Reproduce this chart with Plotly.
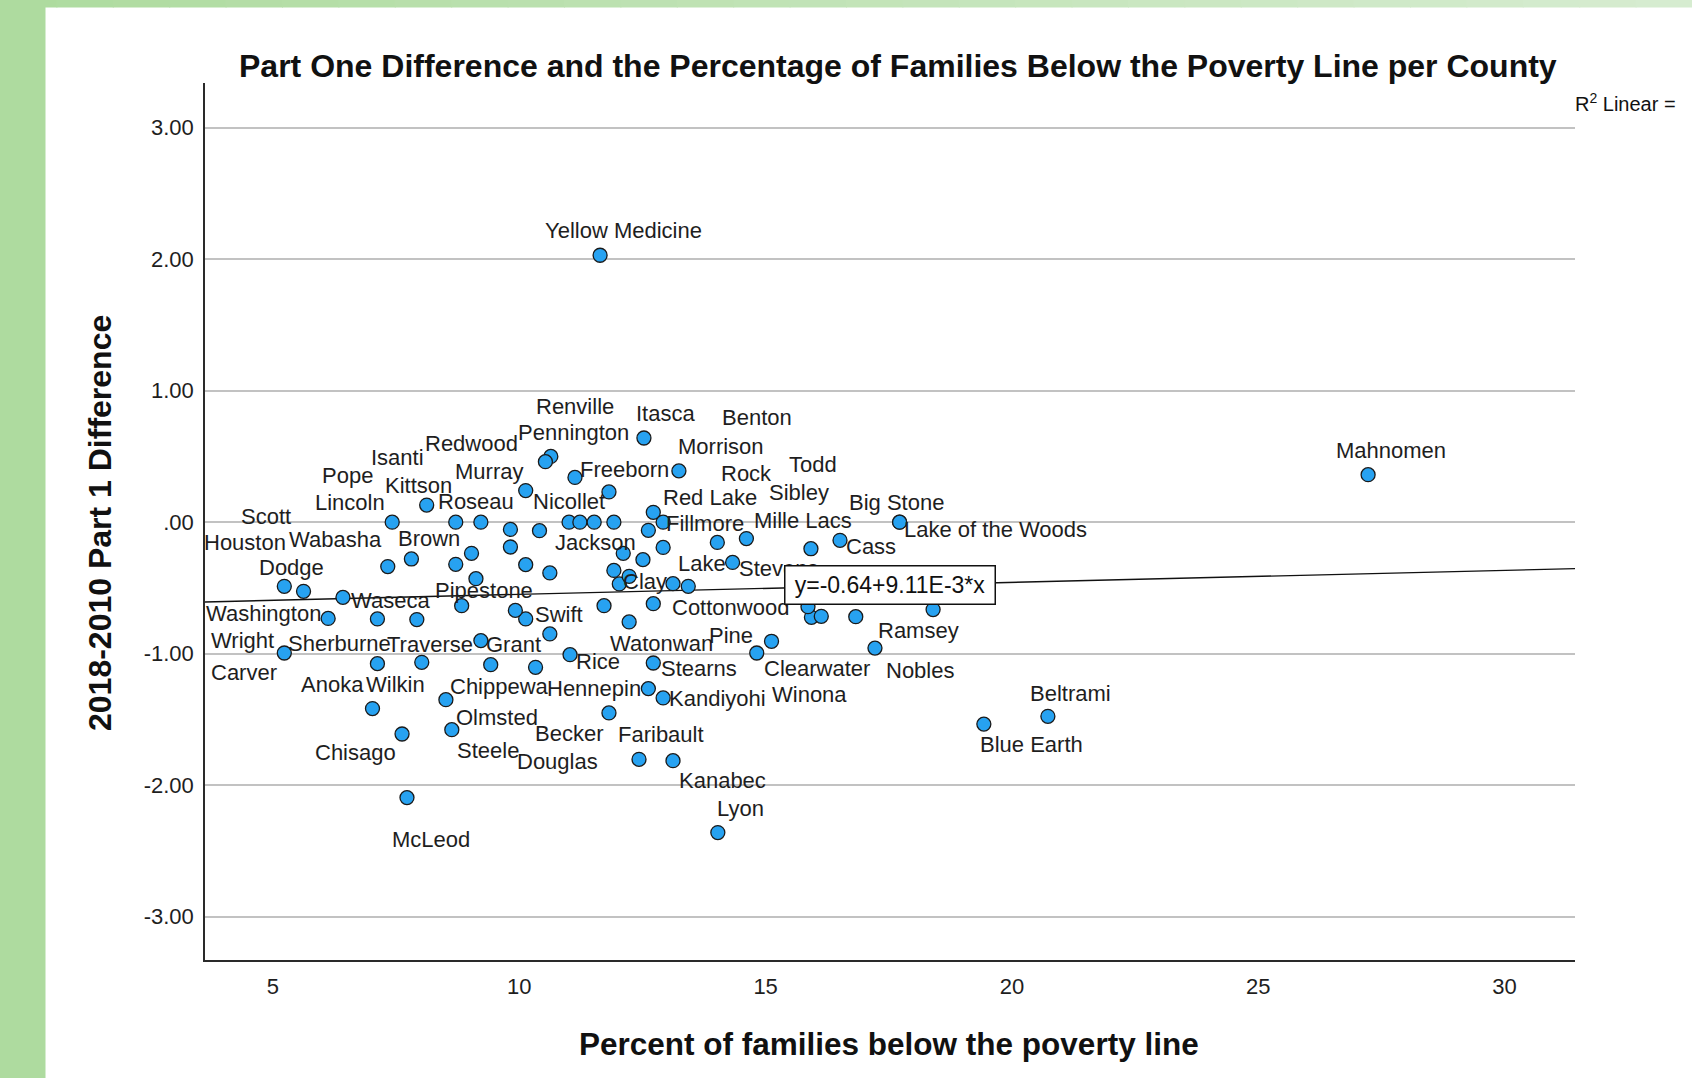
import plotly.graph_objects as go

# ---------------- data ----------------
county = [
    "Yellow Medicine", "Itasca", "Morrison", "Pennington", "Renville", "Freeborn",
    "Murray", "Benton", "Kittson", "Lincoln", "Isanti", "Roseau", "Redwood",
    "Nicollet", "Red Lake", "Fillmore", "Rock", "Pope", "Brown", "Wabasha",
    "Scott", "Jackson", "Clay", "Todd", "Dodge", "Houston", "Waseca",
    "Pipestone", "Swift", "Watonwan", "Washington", "Anoka", "Carver", "Grant",
    "Wright", "Rice", "Lake", "Sibley", "Stevens", "Mille Lacs", "Cass",
    "Big Stone", "Lake of the Woods", "Cottonwood", "Winona", "Ramsey", "Pine",
    "Clearwater", "Nobles", "Sherburne", "Traverse", "Steele", "Douglas",
    "Stearns", "Hennepin", "Kandiyohi", "Chippewa", "Wilkin", "Becker",
    "Chisago", "Olmsted", "Faribault", "Kanabec", "McLeod", "Lyon",
    "Blue Earth", "Beltrami", "Mahnomen",
    # points whose labels are not shown in the reference
    "", "", "", "", "", "", "", "", "", "", "", "", "", "", "", "", "", "", "",
]
pct_poverty = [
    11.64, 12.53, 13.24, 10.64, 10.53, 11.13,
    10.13, 11.82, 8.12, 7.42, 8.71, 9.22, 9.82,
    11.01, 12.72, 12.92, 12.62, 9.03, 7.81, 7.33,
    8.71, 12.11, 12.03, 12.92, 5.23, 5.62, 6.42,
    8.83, 10.13, 12.23, 6.12, 7.12, 7.92, 9.22,
    5.23, 11.03, 14.02, 14.61, 14.33, 15.92, 16.51,
    17.72, 17.72, 12.72, 16.83, 18.40, 15.12,
    14.82, 17.22, 7.12, 8.02, 9.42, 10.33,
    12.72, 12.62, 12.92, 8.51, 7.02, 11.82,
    7.62, 8.63, 12.43, 13.12, 7.72, 14.03,
    19.43, 20.73, 27.23,
    10.41, 11.23, 11.52, 11.92, 9.82, 10.13, 10.62, 11.92, 12.23, 12.51,
    9.12, 9.92, 11.72, 10.62, 13.12, 13.43, 15.93, 16.13, 15.86,
]
diff_part1 = [
    2.03, 0.64, 0.39, 0.50, 0.46, 0.34,
    0.24, 0.23, 0.13, 0.00, 0.00, 0.00, -0.055,
    0.00, 0.075, 0.00, -0.062, -0.237, -0.28, -0.338,
    -0.321, -0.237, -0.47, -0.192, -0.488, -0.526, -0.572,
    -0.635, -0.736, -0.759, -0.732, -0.736, -0.741, -0.901,
    -0.995, -1.008, -0.154, -0.125, -0.306, -0.202, -0.138,
    0.00, 0.00, -0.62, -0.719, -0.665, -0.906,
    -0.995, -0.958, -1.076, -1.066, -1.084, -1.104,
    -1.071, -1.266, -1.337, -1.35, -1.418, -1.451,
    -1.611, -1.578, -1.804, -1.814, -2.095, -2.361,
    -1.536, -1.477, 0.361,
    -0.065, 0.00, 0.00, 0.00, -0.189, -0.323, -0.386, -0.367, -0.412, -0.285,
    -0.43, -0.671, -0.635, -0.85, -0.468, -0.488, -0.724, -0.716, -0.643,
]

fit_intercept = -0.64
fit_slope = 9.11e-3
fit_text = "y=-0.64+9.11E-3*x"

x_ticks = [5, 10, 15, 20, 25, 30]
y_ticks = [3, 2, 1, 0, -1, -2, -3]
y_ticktext = ["3.00", "2.00", "1.00", ".00", "-1.00", "-2.00", "-3.00"]

title_text = "Part One Difference and the Percentage of Families Below the Poverty Line per County"
x_title = "Percent of families below the poverty line"
y_title = "2018-2010 Part 1 Difference"

# ---------------- label placement (pixel offsets from the point) ----------------
label_offset = {
    "Yellow Medicine": (23, -25), "Renville": (30, -55), "Itasca": (22, -25),
    "Benton": (148, -74), "Pennington": (23, -24), "Redwood": (-39, -86),
    "Morrison": (42, -24), "Mahnomen": (23, -24), "Isanti": (-58, -65),
    "Murray": (-37, -19), "Freeborn": (50, -8), "Rock": (98, -57),
    "Todd": (150, -83), "Pope": (-124, -78), "Kittson": (-8, -20),
    "Lincoln": (-42, -20), "Roseau": (-5, -21), "Nicollet": (0, -21),
    "Red Lake": (57, -15), "Sibley": (53, -46), "Big Stone": (-3, -20),
    "Scott": (-190, -48), "Mille Lacs": (-8, -28), "Fillmore": (42, 1),
    "Lake of the Woods": (96, 7), "Houston": (-59, -49), "Wabasha": (-52, -27),
    "Brown": (18, -20), "Jackson": (-28, -11), "Cass": (31, 6),
    "Lake": (-15, 21), "Stevens": (46, 6), "Dodge": (7, -19),
    "Pipestone": (22, -15), "Clay": (26, -2), "Waseca": (48, 3),
    "Cottonwood": (77, 4), "Washington": (-65, -5), "Swift": (33, -4),
    "Ramsey": (-15, 21), "Wright": (-42, -12), "Sherburne": (-38, -20),
    "Traverse": (8, -18), "Grant": (33, 4), "Watonwan": (32, 22),
    "Pine": (-41, -6), "Rice": (28, 7), "Stearns": (46, 6),
    "Clearwater": (60, 16), "Nobles": (45, 22), "Carver": (-173, 53),
    "Anoka": (-45, 66), "Wilkin": (23, -24), "Chippewa": (54, -13),
    "Hennepin": (-54, 0), "Kandiyohi": (54, 1), "Winona": (-46, 78),
    "Beltrami": (23, -23), "Olmsted": (45, -12), "Becker": (-40, 21),
    "Faribault": (22, -25), "Blue Earth": (48, 20), "Chisago": (-47, 19),
    "Steele": (-3, 86), "Douglas": (22, 94), "Kanabec": (49, 20),
    "Lyon": (23, -24), "McLeod": (24, 42),
}

# ---------------- geometry ----------------
W, H = 1692, 1078
ML, MR, MT, MB = 205, 117, 83, 118
PW, PH = W - ML - MR, H - MT - MB
X_RANGE = [3.62, 31.43]
Y_RANGE = [-3.33, 3.34]
FONT = "Liberation Sans, Arial, sans-serif"


def px_to_paper_x(px):
    return (px - ML) / PW


def px_to_paper_y(py):
    return (H - MB - py) / PH


fig = go.Figure()

# regression line across the x range
fig.add_trace(go.Scatter(
    x=X_RANGE,
    y=[fit_intercept + fit_slope * v for v in X_RANGE],
    mode="lines", line=dict(color="#111111", width=1.4),
    hoverinfo="skip", showlegend=False,
))

fig.add_trace(go.Scatter(
    x=pct_poverty, y=diff_part1, mode="markers", text=county,
    marker=dict(size=14, color="#27a2f1", line=dict(color="#1a1a1a", width=1.3)),
    showlegend=False,
))

annotations = []
for name, xv, yv in zip(county, pct_poverty, diff_part1):
    if not name:
        continue
    dx, dy = label_offset[name]
    annotations.append(dict(
        x=xv, y=yv, xref="x", yref="y", text=name, showarrow=False,
        xshift=dx, yshift=-dy, xanchor="center", yanchor="middle",
        font=dict(family=FONT, size=22, color="#1e1e1e"),
    ))

# equation box
box_x = 17.53
annotations.append(dict(
    x=box_x, y=fit_intercept + fit_slope * box_x, xref="x", yref="y",
    text=fit_text, showarrow=False, xanchor="center", yanchor="middle",
    font=dict(family=FONT, size=23, color="#111111"),
    bgcolor="white", bordercolor="#111111", borderwidth=1.5, borderpad=2,
    width=205, height=33,
))

# R2 text at top right
annotations.append(dict(
    x=px_to_paper_x(1573), y=px_to_paper_y(102), xref="paper", yref="paper",
    text="R<sup>2</sup> Linear = ", showarrow=False, xanchor="left", yanchor="middle",
    font=dict(family=FONT, size=20, color="#111111"),
))

# titles
annotations.append(dict(
    x=px_to_paper_x(898), y=px_to_paper_y(66), xref="paper", yref="paper",
    text="<b>" + title_text + "</b>", showarrow=False, xanchor="center", yanchor="middle",
    font=dict(family=FONT, size=32, color="#111111"),
))
annotations.append(dict(
    x=px_to_paper_x(889), y=px_to_paper_y(1044), xref="paper", yref="paper",
    text="<b>" + x_title + "</b>", showarrow=False, xanchor="center", yanchor="middle",
    font=dict(family=FONT, size=31.5, color="#111111"),
))
annotations.append(dict(
    x=px_to_paper_x(100), y=px_to_paper_y(523), xref="paper", yref="paper",
    text="<b>" + y_title + "</b>", showarrow=False, xanchor="center", yanchor="middle",
    textangle=-90, font=dict(family=FONT, size=32, color="#111111"),
))

# green frame (left strip and top strip with gradient)
shapes = [dict(
    type="rect", xref="paper", yref="paper", layer="below",
    x0=px_to_paper_x(0), x1=px_to_paper_x(45.5),
    y0=px_to_paper_y(H), y1=px_to_paper_y(0),
    fillcolor="#aedb9f", line=dict(width=0),
)]
n_seg = 30
c0 = (174, 219, 159)
c1 = (214, 236, 208)
for i in range(n_seg):
    t = i / (n_seg - 1)
    col = tuple(round(c0[k] + (c1[k] - c0[k]) * t) for k in range(3))
    shapes.append(dict(
        type="rect", xref="paper", yref="paper", layer="below",
        x0=px_to_paper_x(W * i / n_seg), x1=px_to_paper_x(W * (i + 1) / n_seg + 1),
        y0=px_to_paper_y(7.5), y1=px_to_paper_y(0),
        fillcolor="rgb(%d,%d,%d)" % col, line=dict(width=0),
    ))

fig.update_layout(
    width=W, height=H,
    margin=dict(l=ML, r=MR, t=MT, b=MB, pad=0),
    paper_bgcolor="white", plot_bgcolor="white",
    font=dict(family=FONT, color="#1e1e1e"),
    annotations=annotations, shapes=shapes,
    xaxis=dict(
        range=X_RANGE, tickvals=x_ticks, showgrid=False, zeroline=False,
        showline=True, linecolor="#2a2a2a", linewidth=1.6, ticks="",
        tickfont=dict(family=FONT, size=22, color="#1e1e1e"), ticklabelstandoff=6,
    ),
    yaxis=dict(
        range=Y_RANGE, tickvals=y_ticks, ticktext=y_ticktext,
        showgrid=True, gridcolor="#c2c2c2", gridwidth=1.5, zeroline=False,
        showline=True, linecolor="#2a2a2a", linewidth=1.6, ticks="",
        tickfont=dict(family=FONT, size=22, color="#1e1e1e"), ticklabelstandoff=5,
    ),
)

fig.write_html(
    "out.html",
    config={"displayModeBar": False},
    post_script="document.body.style.margin='0';document.body.style.overflow='hidden';",
)
